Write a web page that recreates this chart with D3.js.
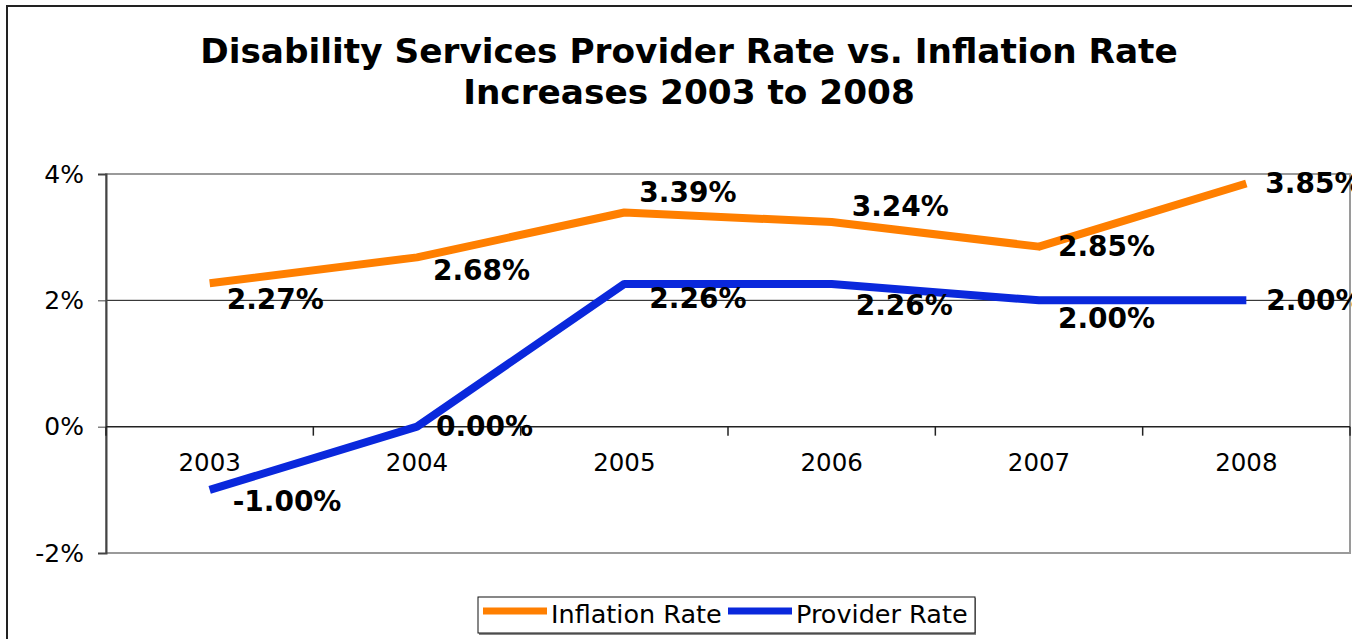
<!DOCTYPE html>
<html>
<head>
<meta charset="utf-8">
<script src="https://cdn.jsdelivr.net/npm/d3@7"></script>
<style>
  body { margin: 0; background: #fff; }
  text { font-family: "DejaVu Sans", Verdana, sans-serif; }
</style>
</head>
<body>
<script>
const years = ['2003', '2004', '2005', '2006', '2007', '2008'];
const inflationRate = [2.27, 2.68, 3.39, 3.24, 2.85, 3.85];
const providerRate = [-1.00, 0.00, 2.26, 2.26, 2.00, 2.00];
const yTicks = [-2, 0, 2, 4];
const titleLines = ['Disability Services Provider Rate vs. Inflation Rate', 'Increases 2003 to 2008'];

// label nudges (dx, dy from the point), roughly where Excel put them
const inflationLabelPos = [[17, 16], [16, 13], [15, -20], [20, -16], [19, 0], [19, 0]];
const providerLabelPos = [[23, 11], [19, 0], [25, 14], [24, 21], [19, 18], [20, 0]];

const width = 1352, height = 639;
const plot = { left: 106, right: 1350, top: 174, bottom: 553 };

const svg = d3.select('body').append('svg').attr('width', width).attr('height', height);

// outer chart border
svg.append('rect')
    .attr('x', 7).attr('y', 6)
    .attr('width', width + 20).attr('height', height + 20)
    .attr('fill', '#fff').attr('stroke', '#222').attr('stroke-width', 2);

svg.selectAll('text.title')
    .data(titleLines)
    .enter().append('text')
    .attr('class', 'title')
    .attr('x', 689)
    .attr('y', (d, i) => 63 + i * 41)
    .attr('text-anchor', 'middle')
    .attr('font-size', 34.3)
    .attr('font-weight', 'bold')
    .text(d => d);

const x = d3.scaleBand().domain(years).range([plot.left, plot.right]);
const y = d3.scaleLinear().domain([-2, 4]).range([plot.bottom, plot.top]);

// plot area frame
svg.append('rect')
    .attr('x', plot.left).attr('y', plot.top)
    .attr('width', plot.right - plot.left).attr('height', plot.bottom - plot.top)
    .attr('fill', '#fff').attr('stroke', '#9a9a9a').attr('stroke-width', 2);

// gridline at 2%
svg.append('line')
    .attr('x1', plot.left).attr('x2', plot.right)
    .attr('y1', y(2)).attr('y2', y(2))
    .attr('stroke', '#111').attr('stroke-width', 1);

// y axis
const yAxis = svg.append('g')
    .attr('transform', `translate(${plot.left},0)`)
    .call(d3.axisLeft(y).tickValues(yTicks).tickSize(8).tickPadding(14).tickFormat(d => d + '%'));
yAxis.select('.domain').attr('stroke', '#444').attr('stroke-width', 2);
yAxis.selectAll('.tick line').attr('stroke', '#444');
yAxis.selectAll('.tick text')
    .attr('font-size', 25)
    .attr('font-family', '"DejaVu Sans", Verdana, sans-serif')
    .attr('fill', '#000');

// category axis at 0%
const xAxisG = svg.append('g').attr('transform', `translate(0,${y(0)})`);
xAxisG.append('line')
    .attr('x1', plot.left).attr('x2', plot.right)
    .attr('stroke', '#222').attr('stroke-width', 1.5);
const bounds = years.map(d => x(d)).concat([x(years[years.length - 1]) + x.bandwidth()]);
xAxisG.selectAll('line.tick')
    .data(bounds)
    .enter().append('line')
    .attr('class', 'tick')
    .attr('x1', d => d).attr('x2', d => d)
    .attr('y1', 0).attr('y2', 9)
    .attr('stroke', '#222').attr('stroke-width', 1.5);
xAxisG.selectAll('text')
    .data(years)
    .enter().append('text')
    .attr('x', d => x(d) + x.bandwidth() / 2)
    .attr('y', 44)
    .attr('text-anchor', 'middle')
    .attr('font-size', 24.5)
    .text(d => d);

const cx = d => x(d) + x.bandwidth() / 2;

const series = [
    { name: 'Inflation Rate', values: inflationRate, color: '#ff7f00', labels: inflationLabelPos },
    { name: 'Provider Rate', values: providerRate, color: '#0a28dc', labels: providerLabelPos }
];

const line = d3.line().x((d, i) => cx(years[i])).y(d => y(d));

series.forEach(s => {
    svg.append('path')
        .datum(s.values)
        .attr('d', line)
        .attr('fill', 'none')
        .attr('stroke', s.color)
        .attr('stroke-width', 8)
        .attr('stroke-linejoin', 'round');
});

series.forEach(s => {
    svg.selectAll(null)
        .data(s.values)
        .enter().append('text')
        .attr('x', (d, i) => cx(years[i]) + s.labels[i][0])
        .attr('y', (d, i) => y(d) + s.labels[i][1])
        .attr('dy', '0.35em')
        .attr('font-size', 28)
        .attr('font-weight', 'bold')
        .text(d => d.toFixed(2) + '%');
});

// legend
const legend = svg.append('g').attr('transform', 'translate(478,597)');
legend.append('rect')
    .attr('x', 1).attr('y', 1).attr('width', 497).attr('height', 37)
    .attr('fill', '#888');
legend.append('rect')
    .attr('width', 497).attr('height', 36)
    .attr('fill', '#fff').attr('stroke', '#111').attr('stroke-width', 1);
const legendX = [5, 250];
series.forEach((s, i) => {
    legend.append('line')
        .attr('x1', legendX[i]).attr('x2', legendX[i] + 64)
        .attr('y1', 14).attr('y2', 14)
        .attr('stroke', s.color).attr('stroke-width', 7);
    legend.append('text')
        .attr('x', legendX[i] + 68)
        .attr('y', 26)
        .attr('font-size', 25.5)
        .text(s.name);
});
</script>
</body>
</html>
